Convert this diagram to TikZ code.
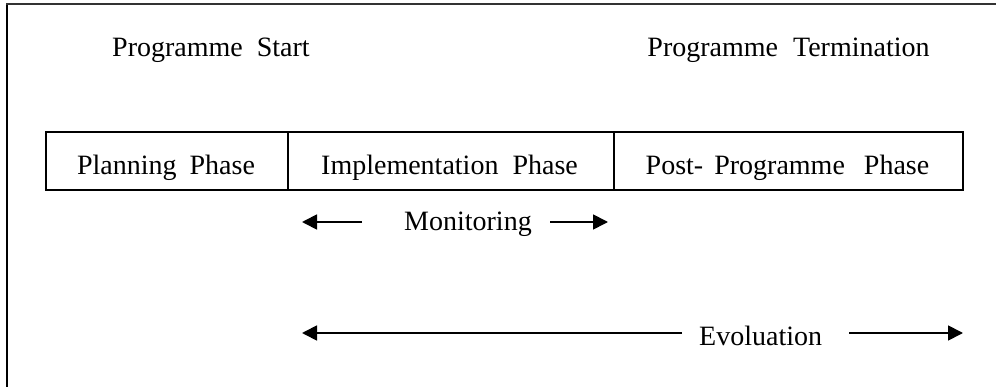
\documentclass[tikz,border=0pt]{standalone}
\usepackage{fontspec}
\setmainfont{Liberation Serif}
\usetikzlibrary{arrows.meta}
\begin{document}
\begin{tikzpicture}[x=1pt,y=-1pt,
  lbl/.style={inner sep=0pt,font=\fontsize{28}{33}\selectfont},
  phasebox/.style={draw,line width=2.2pt,inner sep=0pt,minimum height=58pt},
  arr/.style={line width=1.7pt,-{Triangle[length=15pt,width=15pt]}}]
\useasboundingbox (0,0) rectangle (996,387);
% frame
\draw[line width=2pt] (7,388) -- (7,4);
\draw[line width=2.2pt,black!80] (6,4) -- (997,4);
% phase boxes
\node[phasebox,minimum width=242pt,anchor=north west] (plan) at (45,131) {};
\node[phasebox,minimum width=326pt,anchor=north west] (impl) at (287,131) {};
\node[phasebox,minimum width=349pt,anchor=north west] (post) at (613,131) {};
% labels
\node[lbl,anchor=base] (start) at (211,57) {Programme\hspace{14pt}Start};
\node[lbl,anchor=base] (term) at (788.5,57) {Programme\hspace{15pt}Termination};
\node[lbl,anchor=base] (tplan) at (166,175) {Planning\hspace{13pt}Phase};
\node[lbl,anchor=base] (timpl) at (449.5,175) {Implementation\hspace{14pt}Phase};
\node[lbl,anchor=base] (tpost) at (787.5,175) {Post-\hspace{11pt}Programme\hspace{19pt}Phase};
\node[lbl,anchor=base west] (mon) at (404,231) {Monitoring};
\node[lbl,anchor=base west] (evo) at (699,345) {Evoluation};
% arrow coordinates
\coordinate (m1t) at (362,222); \coordinate (m1h) at (302,222);
\coordinate (m2t) at (550,222); \coordinate (m2h) at (608,222);
\coordinate (e1t) at (682,333); \coordinate (e1h) at (302,333);
\coordinate (e2t) at (849,333); \coordinate (e2h) at (963,333);
\draw[arr] (m1t) -- (m1h);
\draw[arr] (m2t) -- (m2h);
\draw[arr] (e1t) -- (e1h);
\draw[arr] (e2t) -- (e2h);
\end{tikzpicture}
\end{document}
